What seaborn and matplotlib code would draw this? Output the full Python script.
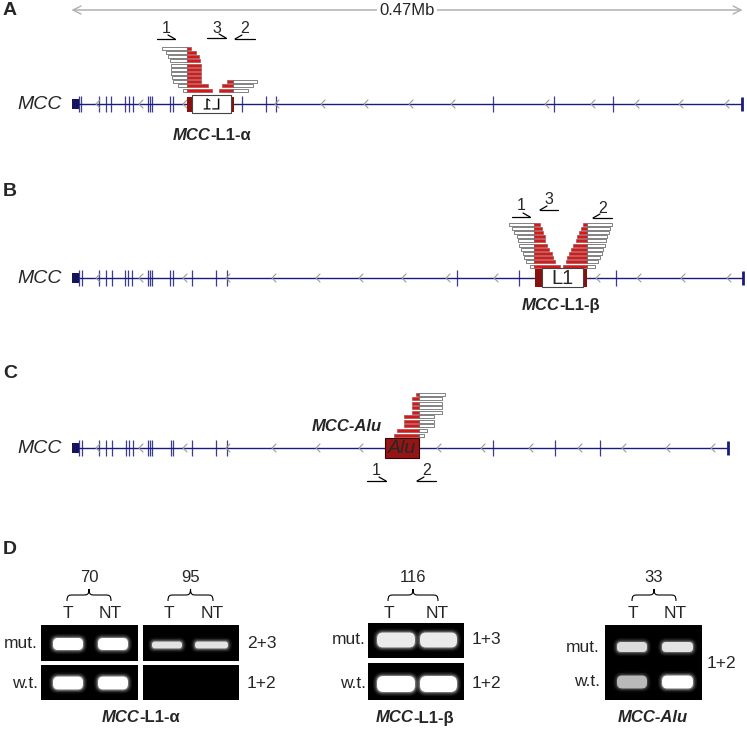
import matplotlib
matplotlib.use("Agg")
import matplotlib.pyplot as plt
import numpy as np
import seaborn as sns
from matplotlib.patches import Rectangle, FancyBboxPatch, PathPatch
from matplotlib.path import Path
from matplotlib.textpath import TextPath
from matplotlib.font_manager import FontProperties
from matplotlib.transforms import Affine2D

sns.set_theme(style="white")
plt.rcParams["font.family"] = ["Liberation Sans", "DejaVu Sans"]

# ---- gene models (positions along the drawn 0.47 Mb window) ----
gene_start = 72
gene_end = {"A": 742, "B": 743, "C": 728}
exons_a = [79, 81, 99, 106, 111, 125, 129, 133, 148, 150, 152, 170, 173, 242, 266, 276, 493, 554, 613]
exons_b = [79, 82, 99, 106, 112, 125, 128, 132, 148, 150, 152, 170, 173, 192, 216, 227, 457, 519, 616]
exons_c = [79, 82, 99, 106, 112, 126, 129, 133, 148, 150, 152, 171, 173, 192, 216, 227, 493, 555, 600]
arrows_a = [97, 140, 184, 276, 322, 365, 410, 452, 546, 592, 636, 680, 726]
arrows_b = [97, 140, 184, 227, 273, 317, 360, 403, 447, 495, 597, 638, 682, 728]
arrows_c = [97, 140, 184, 227, 273, 317, 360, 438, 482, 530, 579, 623, 667, 712]

# ---- supporting reads: left end, junction, right end ----
a_left_start = [162, 166, 168, 170, 171, 171, 171, 172, 173, 178, 183]
a_left_end = [191, 196, 199, 200, 201, 201, 201, 201, 201, 208, 212]
a_left_junction = 187
a_right_start = [227, 222, 219]
a_right_end = [257, 253, 248]
a_right_junction = 233

b_left_start = [509, 512, 514, 517, 518, 519, 521, 523, 524, 526, 530]
b_left_end = [540, 542, 543, 545, 545, 547, 549, 552, 553, 555, 560]
b_left_junction = 534
b_right_start = [583, 581, 579, 577, 576, 573, 571, 569, 567, 566, 563]
b_right_end = [612, 610, 609, 607, 606, 605, 603, 602, 600, 598, 595]
b_right_junction = 587

c_start = [416, 412, 412, 412, 412, 404, 404, 404, 397, 394]
c_end = [445, 442, 442, 442, 442, 434, 434, 434, 427, 424]
c_junction = 419

# ---- PCR gels ----
gel_cases = ["70", "95", "116", "33"]
gel_lanes = ["T", "NT"]
gel_primers_mut = ["2+3", "2+3", "1+3", "1+2"]
gel_primers_wt = ["1+2", "1+2", "1+2", "1+2"]
band_mut = [[1.0, 1.0], [0.8, 0.8], [0.85, 0.85], [0.75, 0.8]]
band_wt = [[1.0, 1.0], [0.0, 0.0], [1.0, 1.0], [0.5, 1.0]]
gel_names = ["L1-\u03b1", "L1-\u03b2", "Alu"]

NAVY = "#1b1b7d"
RED = "#d81818"
DARKRED = "#8a1010"
GREY = "#9a9a9a"

fig = plt.figure(figsize=(7.47, 7.29), dpi=100)
ax = fig.add_axes([0, 0, 1, 1])
ax.set_xlim(0, 747)
ax.set_ylim(729, 0)
ax.axis("off")


def gene(y, exons, arrows, end):
    ax.add_patch(Rectangle((gene_start, y - 5), 7, 10, fc="#15155e", ec="none", zorder=3))
    ax.plot([gene_start + 6, end], [y, y], color=NAVY, lw=1.0, zorder=2)
    ax.vlines(exons, y - 8, y + 8, color=NAVY, lw=0.9, alpha=0.85, zorder=2)
    ax.vlines([end], y - 7, y + 7, color=NAVY, lw=2.0, zorder=2)
    for x in arrows:
        ax.plot([x + 3, x - 1, x + 3], [y - 4, y, y + 4], color=GREY, lw=0.8, zorder=2)
    ax.text(62, y, "MCC", fontsize=14, fontstyle="italic", ha="right", va="center")


def reads(y_bottom, starts, ends, junction, red_left, step=4.15, h=3.0):
    n = len(starts)
    for i, (s, e) in enumerate(zip(starts, ends)):
        y = y_bottom - (n - 1 - i) * step
        if red_left:
            segs = [(s, junction, RED), (junction, e, "white")]
        else:
            segs = [(s, junction, "white"), (junction, e, RED)]
        for x0, x1, c in segs:
            if x1 <= x0:
                continue
            ax.add_patch(Rectangle((x0, y - h / 2), x1 - x0, h, fc=c,
                                   ec="#505050" if c == "white" else "#a05050", lw=0.5, zorder=4))


def primer(x0, x1, y, label, forward, ly):
    ax.plot([x0, x1], [y, y], color="black", lw=0.9)
    if forward:
        ax.plot([x1 - 7, x1], [y - 4, y], color="black", lw=0.9)
    else:
        ax.plot([x0 + 7, x0], [y - 4, y], color="black", lw=0.9)
    ax.text((x0 + x1) / 2, ly, label, fontsize=11.5, ha="center", va="center")


def mixed_label(xc, y, parts, size=12):
    rend = fig.canvas.get_renderer()
    texts = [ax.text(0, y, s, fontsize=size, fontweight="bold", fontstyle=st, ha="left", va="center")
             for s, st in parts]
    widths = [t.get_window_extent(rend).width for t in texts]
    x = xc - sum(widths) / 2
    for t, w in zip(texts, widths):
        t.set_x(x)
        x += w


def mirrored_text(s, xc, yc, size):
    tp = TextPath((0, 0), s, size=size, prop=FontProperties(family="Liberation Sans"))
    ext = tp.get_extents()
    tr = Affine2D().translate(-(ext.x0 + ext.x1) / 2, -(ext.y0 + ext.y1) / 2).scale(-1, -1).translate(xc, yc)
    ax.add_patch(PathPatch(tr.transform_path(tp), fc="black", ec="none", zorder=6))


# ---- scale bar ----
ax.plot([73, 741], [10, 10], color="#b0b0b0", lw=1.1)
ax.plot([81, 73, 81], [6, 10, 14], color="#b0b0b0", lw=1.0)
ax.plot([733, 741, 733], [6, 10, 14], color="#b0b0b0", lw=1.0)
ax.text(407, 10, "0.47Mb", fontsize=12, ha="center", va="center",
        bbox=dict(fc="white", ec="none", pad=1.5))

# ---- panel letters ----
for lab, y in [("A", 10), ("B", 191), ("C", 373), ("D", 549)]:
    ax.text(3, y, lab, fontsize=14, fontweight="bold", ha="left", va="center")

# ---- panel A ----
yA = 104
gene(yA, exons_a, arrows_a, gene_end["A"])
ax.add_patch(Rectangle((187, 97), 5, 15, fc=DARKRED, ec="none", zorder=5))
ax.add_patch(Rectangle((231, 97), 3, 15, fc=DARKRED, ec="none", zorder=5))
ax.add_patch(Rectangle((192, 95), 39, 18, fc="white", ec="#444444", lw=0.8, zorder=5))
mirrored_text("L1", 211.5, 104, 16)
reads(90, a_left_start, a_left_end, a_left_junction, red_left=False)
reads(90, a_right_start, a_right_end, a_right_junction, red_left=True)
primer(157, 175, 39, "1", True, 28)
primer(207, 226, 38, "3", True, 28)
primer(235, 255, 39, "2", False, 28)
mixed_label(212, 135, [("MCC", "italic"), ("-L1-\u03b1", "normal")])

# ---- panel B ----
yB = 278
gene(yB, exons_b, arrows_b, gene_end["B"])
ax.add_patch(Rectangle((535, 269), 7, 18, fc=DARKRED, ec="none", zorder=5))
ax.add_patch(Rectangle((583, 269), 4, 18, fc=DARKRED, ec="none", zorder=5))
ax.add_patch(Rectangle((542, 268), 41, 19, fc="white", ec="#444444", lw=0.8, zorder=5))
ax.text(562.5, 278, "L1", fontsize=14.5, ha="center", va="center", zorder=6)
reads(266, b_left_start, b_left_end, b_left_junction, red_left=False, step=4.2)
reads(266, b_right_start, b_right_end, b_right_junction, red_left=True, step=4.2)
primer(512, 530, 217, "1", True, 205)
primer(540, 558, 210, "3", False, 199)
primer(593, 612, 218, "2", False, 208)
mixed_label(561, 305, [("MCC", "italic"), ("-L1-\u03b2", "normal")])

# ---- panel C ----
yC = 448
gene(yC, exons_c, arrows_c, gene_end["C"])
ax.add_patch(Rectangle((385, 438), 34, 20, fc="#951515", ec="#3a0000", lw=0.8, zorder=5))
ax.text(402, 448, "Alu", fontsize=14, fontstyle="italic", ha="center", va="center", zorder=6)
reads(435, c_start, c_end, c_junction, red_left=True, step=4.55)
primer(367, 386, 481, "1", True, 470)
primer(417, 436, 481, "2", False, 470)
ax.text(347, 426, "MCC-Alu", fontsize=12, fontweight="bold", fontstyle="italic", ha="center", va="center")

# ---- panel D: gels ----
gel_boxes = [  # (x0, x1, mut y0, mut y1, wt y0, wt y1)
    (41, 138, 625, 661, 665, 700),
    (143, 239, 625, 661, 665, 700),
    (368, 464, 623, 658, 663, 700),
]
lane_x = [[(53, 83), (98, 128)], [(152, 182), (195, 228)], [(377, 415), (420, 457)], [(617, 647), (662, 693)]]
band_y = [(644, 12, 683, 13), (645, 7, 683, 13), (640, 15, 684, 16), (647, 10, 682, 13)]


def band(x0, x1, yc, h, level):
    if level <= 0:
        return
    r = h / 2 * 0.8
    for grow, a in [(4.0, 0.08), (2.5, 0.15), (1.2, 0.3)]:
        ax.add_patch(FancyBboxPatch((x0 - grow, yc - h / 2 - grow), x1 - x0 + 2 * grow, h + 2 * grow,
                                    boxstyle=f"round,pad=0,rounding_size={r + grow}",
                                    fc="white", ec="none", alpha=a * level, zorder=7))
    g = 0.45 + 0.55 * level
    ax.add_patch(FancyBboxPatch((x0, yc - h / 2), x1 - x0, h, boxstyle=f"round,pad=0,rounding_size={r}",
                                fc=(g, g, g), ec="none", zorder=8))


for i, (x0, x1, m0, m1, w0, w1) in enumerate(gel_boxes):
    ax.add_patch(Rectangle((x0, m0), x1 - x0, m1 - m0, fc="black", ec="none", zorder=6))
    ax.add_patch(Rectangle((x0, w0), x1 - x0, w1 - w0, fc="black", ec="none", zorder=6))
ax.add_patch(Rectangle((605, 625), 97, 75, fc="black", ec="none", zorder=6))

for g in range(4):
    ym, hm, yw, hw = band_y[g]
    for k in range(2):
        xa, xb = lane_x[g][k]
        band(xa, xb, ym, hm, band_mut[g][k])
        band(xa, xb, yw, hw, band_wt[g][k])


def brace(x0, x1, yb, yt, label):
    xm = (x0 + x1) / 2
    ym = (yb + yt) / 2
    verts = [(x0, yb), (x0, ym), (x0 + 2, ym), (x0 + 6, ym),
             (xm - 6, ym), (xm - 2, ym), (xm, ym), (xm, yt),
             (xm, ym), (xm + 2, ym), (xm + 6, ym),
             (x1 - 6, ym), (x1 - 2, ym), (x1, ym), (x1, yb)]
    codes = [Path.MOVETO, Path.CURVE4, Path.CURVE4, Path.CURVE4,
             Path.LINETO, Path.CURVE4, Path.CURVE4, Path.CURVE4,
             Path.CURVE4, Path.CURVE4, Path.CURVE4,
             Path.LINETO, Path.CURVE4, Path.CURVE4, Path.CURVE4]
    ax.add_patch(PathPatch(Path(verts, codes), fc="none", ec="black", lw=0.8))
    ax.text(xm, yt - 12, label, fontsize=12, ha="center", va="center")


brace_x = [(67, 111), (168, 213), (388, 438), (632, 676)]
for g in range(4):
    bx0, bx1 = brace_x[g]
    brace(bx0, bx1, 601, 589, gel_cases[g])
    ax.text(bx0 + 1, 613, gel_lanes[0], fontsize=12.5, ha="center", va="center")
    ax.text(bx1 - 1, 613, gel_lanes[1], fontsize=12.5, ha="center", va="center")

ax.text(38, 644, "mut.", fontsize=12.5, ha="right", va="center")
ax.text(38, 683, "w.t.", fontsize=12.5, ha="right", va="center")
ax.text(247, 644, gel_primers_mut[0], fontsize=12.5, ha="left", va="center")
ax.text(247, 683, gel_primers_wt[1], fontsize=12.5, ha="left", va="center")
ax.text(366, 640, "mut.", fontsize=12.5, ha="right", va="center")
ax.text(366, 684, "w.t.", fontsize=12.5, ha="right", va="center")
ax.text(472, 640, gel_primers_mut[2], fontsize=12.5, ha="left", va="center")
ax.text(472, 684, gel_primers_wt[2], fontsize=12.5, ha="left", va="center")
ax.text(600, 647, "mut.", fontsize=12.5, ha="right", va="center")
ax.text(600, 682, "w.t.", fontsize=12.5, ha="right", va="center")
ax.text(707, 663, gel_primers_mut[3], fontsize=12.5, ha="left", va="center")

mixed_label(141, 718, [("MCC", "italic"), ("-" + gel_names[0], "normal")])
mixed_label(415, 718, [("MCC", "italic"), ("-" + gel_names[1], "normal")])
ax.text(653, 718, "MCC-" + gel_names[2], fontsize=12, fontweight="bold", fontstyle="italic",
        ha="center", va="center")

fig.savefig("out.png", dpi=100, facecolor="white")
